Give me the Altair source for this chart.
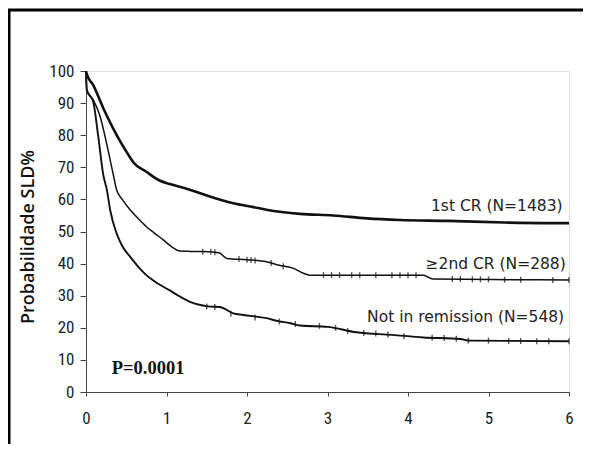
import altair as alt
import pandas as pd

# ---- data ----
cr1_t = [0, 0.01, 0.09, 0.215, 0.26, 0.34, 0.45, 0.55, 0.59, 0.75, 0.92, 1.04, 1.25, 1.375,
         1.5, 1.83, 2.08, 2.24, 2.66, 3.07, 3.49, 3.9, 4.5, 5.2, 6.0]
cr1_v = [100, 99, 95.6, 88.4, 86, 82, 77, 73, 71.5, 68.6, 65.8, 64.8, 63.3, 62.3,
         61.2, 58.8, 57.6, 56.8, 55.5, 55.0, 54.1, 53.6, 53.3, 52.8, 52.6]

cr2_t = [0, 0.01, 0.09, 0.17, 0.26, 0.34, 0.38, 0.45, 0.55, 0.65, 0.75, 0.85, 0.96, 1.05, 1.17,
         1.3, 1.54, 1.66, 1.75, 2.0, 2.24, 2.4, 2.58, 2.7, 2.78, 4.19, 4.31, 5.3, 6.0]
cr2_v = [100, 94, 91, 86.3, 77, 67.6, 63, 60, 56.7, 54, 51.5, 49.5, 47.4, 45.5, 43.9,
         43.8, 43.7, 43.3, 41.6, 41.2, 40.6, 39.5, 38.5, 37, 36.4, 36.4, 35.2, 35.0, 34.9]

nir_t = [0, 0.01, 0.09, 0.15, 0.215, 0.26, 0.30, 0.38, 0.45, 0.55, 0.65, 0.75, 0.85, 0.96, 1.05,
         1.17, 1.3, 1.42, 1.54, 1.66, 1.83, 1.95, 2.24, 2.4, 2.53, 2.66, 3.0, 3.36, 3.8, 4.19,
         4.65, 4.77, 6.0]
nir_v = [100, 94, 90.4, 80, 67.6, 62.9, 56.7, 49.4, 45.5, 42.1, 39, 36.4, 34.5, 32.8, 31.5,
         29.7, 28, 27.1, 26.6, 26.5, 24.5, 24, 23, 22, 21.5, 20.7, 20.3, 18.6, 17.8, 17.0,
         16.5, 16.0, 15.8]

# censor marks (t, v)
cens2_t = [1.45, 1.55, 1.6, 1.9, 2.0, 2.05, 2.1, 2.3, 2.45, 2.95, 3.05, 3.15, 3.3, 3.4, 3.6,
           3.8, 3.9, 4.0, 4.1, 4.55, 4.65, 4.8, 4.9, 5.0, 5.2, 5.4, 5.8, 6.0]
cens2_v = [43.7, 43.7, 43.5, 41.4, 41.2, 41.1, 41.0, 40.2, 39.2, 36.4, 36.4, 36.4, 36.4, 36.4,
           36.4, 36.4, 36.4, 36.4, 36.4, 35.2, 35.2, 35.1, 35.1, 35.1, 35.0, 35.0, 34.9, 34.9]
censn_t = [1.5, 1.6, 1.8, 2.1, 2.4, 2.6, 2.9, 3.1, 3.25, 3.45, 3.6, 3.75, 3.95, 4.3, 4.45,
           4.6, 4.75, 5.0, 5.25, 5.4, 5.6, 5.75, 6.0]
censn_v = [26.6, 26.5, 24.4, 23.2, 22.0, 21.2, 20.6, 20.0, 19.0, 18.4, 18.2, 17.9, 17.4, 16.9,
           16.8, 16.6, 16.0, 16.0, 15.9, 15.9, 15.8, 15.8, 15.8]

label_text = ["1st CR (N=1483)", "\u22652nd CR (N=288)", "Not in remission (N=548)"]
label_t = [5.92, 5.96, 5.94]
label_v = [58, 40, 23.5]

p_text = ["P=0.0001"]
p_t = [0.32]
p_v = [7.5]

y_ticks = list(range(0, 101, 10))
x_ticks = list(range(0, 7))

# ---- tables ----
cr1 = pd.DataFrame({"t": cr1_t, "v": cr1_v})
cr2 = pd.DataFrame({"t": cr2_t, "v": cr2_v})
nir = pd.DataFrame({"t": nir_t, "v": nir_v})
cens = pd.concat([
    pd.DataFrame({"t": cens2_t, "v": cens2_v}),
    pd.DataFrame({"t": censn_t, "v": censn_v}),
])
labels = pd.DataFrame({"txt": label_text, "t": label_t, "v": label_v})
pdf = pd.DataFrame({"txt": p_text, "t": p_t, "v": p_v})

W, H = 483, 321
xs = alt.Scale(domain=[0, 6], nice=False)
ys = alt.Scale(domain=[0, 100], nice=False)

FONT = "DejaVu Sans"
TICKFONT = "Liberation Sans Narrow, Roboto Condensed, Roboto"
x_axis = alt.Axis(values=x_ticks, format="d", grid=False, labelFont=TICKFONT, labelFontSize=17,
                  labelColor="#222", tickSize=4, tickColor="#444", domainColor="#444",
                  labelPadding=14, title=None, labelFlush=False, labelOverlap=False)
y_axis = alt.Axis(values=y_ticks, format="d", grid=False, labelFont=TICKFONT, labelFontSize=17,
                  labelColor="#222", tickSize=6, tickColor="#444", domainColor="#444",
                  labelPadding=6, title="Probabilidade SLD%", titleFont="Open Sans",
                  titleFontSize=18, titleFontWeight=600, titleColor="#111",
                  titleAngle=-90, titleX=-57.5, titleY=165.5, titleAlign="center",
                  titleBaseline="middle", labelOverlap=False, labelFlush=False)

X = alt.X("t:Q", scale=xs, axis=x_axis)
Y = alt.Y("v:Q", scale=ys, axis=y_axis)


def curve(df, w):
    return alt.Chart(df).mark_line(color="#111", strokeWidth=w, strokeJoin="round",
                                   interpolate="monotone").encode(x=X, y=Y)


ticks = alt.Chart(cens).mark_tick(color="#111", orient="vertical", size=6,
                                  thickness=1.4).encode(x=X, y=Y)

txt = alt.Chart(labels).mark_text(align="right", baseline="middle", font=FONT,
                                  fontSize=15.5, color="#222").encode(x=X, y=Y, text="txt:N")

ptxt = alt.Chart(pdf).mark_text(align="left", baseline="middle", font="Liberation Serif",
                                fontSize=18.5, fontWeight="bold", color="#111").encode(
    x=X, y=Y, text="txt:N")

# outer frame: a black box whose right and bottom edges lie outside the picture
frame = alt.Chart(pd.DataFrame({"a": [0]})).mark_rect(
    fill="transparent", stroke="#000", strokeWidth=3).encode(
    x=alt.value(-77), x2=alt.value(W + 60), y=alt.value(-61), y2=alt.value(H + 90))

chart = alt.layer(frame, curve(cr1, 2.6), curve(nir, 1.9), curve(cr2, 1.5),
                  ticks, txt, ptxt).properties(
    width=W, height=H, autosize="none",
    padding={"left": 78, "top": 63, "right": 14, "bottom": 52},
).configure_view(stroke="#888", strokeWidth=1.2).configure(background="white")

chart.save("out.html", embed_options={"renderer": "svg", "actions": False})
